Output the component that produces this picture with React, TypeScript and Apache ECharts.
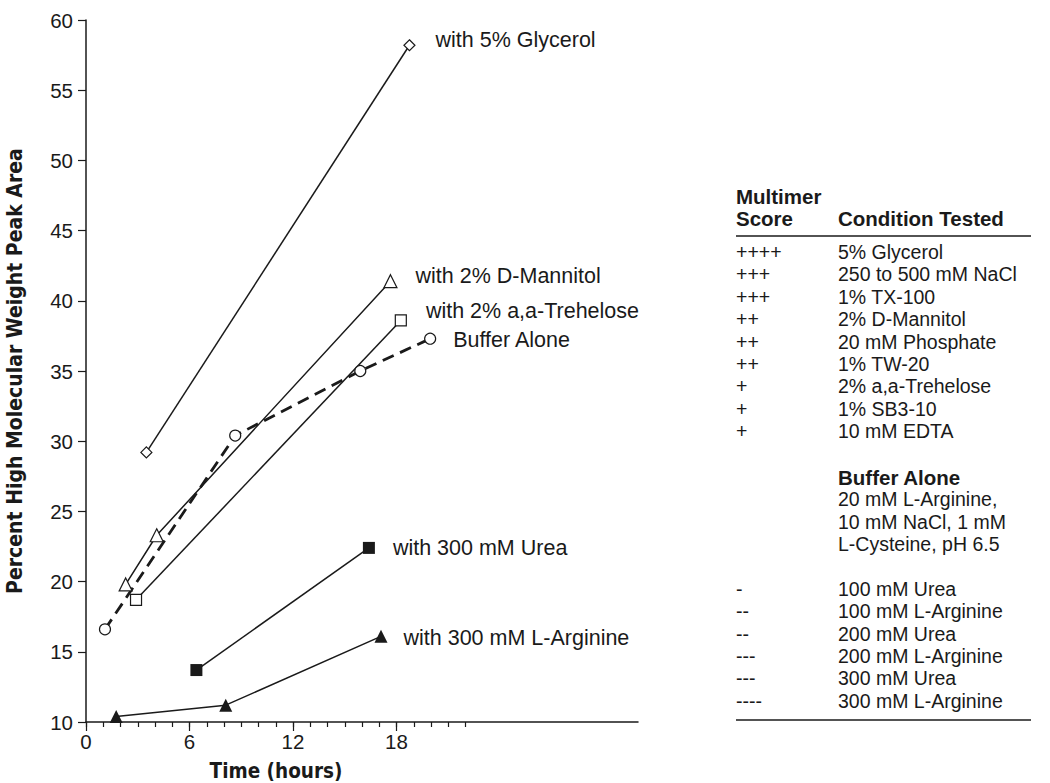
import React, { useEffect, useRef } from "react";
import * as echarts from "echarts";

// ---- data ----
const glycerolX = [3.5, 18.75];
const glycerolY = [29.2, 58.2];
const mannitolX = [2.3, 4.1, 17.65];
const mannitolY = [19.8, 23.3, 41.4];
const trehaloseX = [2.9, 18.25];
const trehaloseY = [18.7, 38.6];
const bufferX = [1.1, 8.65, 15.9, 19.95];
const bufferY = [16.6, 30.4, 35.0, 37.3];
const ureaX = [6.4, 16.4];
const ureaY = [13.7, 22.4];
const arginineX = [1.75, 8.1, 17.1];
const arginineY = [10.4, 11.2, 16.1];

const seriesNames = [
  "with 5% Glycerol",
  "with 2% D-Mannitol",
  "with 2% a,a-Trehelose",
  "Buffer Alone",
  "with 300 mM Urea",
  "with 300 mM L-Arginine",
];

const xMajorTicks = [0, 6, 12, 18];
const xMinorTicks = [0, 1, 2, 3, 4, 5, 6, 7, 8, 9, 10, 11, 12, 13, 14, 15, 16, 17, 18, 19, 20, 21, 22];

const positiveScores = ["++++", "+++", "+++", "++", "++", "++", "+", "+", "+"];
const positiveConditions = [
  "5% Glycerol",
  "250 to 500 mM NaCl",
  "1% TX-100",
  "2% D-Mannitol",
  "20 mM Phosphate",
  "1% TW-20",
  "2% a,a-Trehelose",
  "1% SB3-10",
  "10 mM EDTA",
];
const bufferLines = ["20 mM L-Arginine,", "10 mM NaCl, 1 mM", "L-Cysteine, pH 6.5"];
const negativeScores = ["-", "--", "--", "---", "---", "----"];
const negativeConditions = [
  "100 mM Urea",
  "100 mM L-Arginine",
  "200 mM Urea",
  "200 mM L-Arginine",
  "300 mM Urea",
  "300 mM L-Arginine",
];

const FONT = "'Liberation Sans', Arial, Helvetica, sans-serif";
const NARROW = "'Liberation Sans Narrow', 'DejaVu Sans Condensed', 'Liberation Sans', sans-serif";
const INK = "#1a1a1a";

function pts(xs: number[], ys: number[]) {
  return xs.map((x, i) => [x, ys[i]]);
}

function makeSeries(
  name: string,
  xs: number[],
  ys: number[],
  symbol: string,
  size: number,
  filled: boolean,
  dashed: boolean,
  labelOffset: number[]
) {
  const data: any[] = pts(xs, ys).map((p, i) => {
    if (i === xs.length - 1) {
      return {
        value: p,
        label: {
          show: true,
          formatter: name,
          position: "right",
          distance: 0,
          offset: labelOffset,
          color: INK,
          fontFamily: FONT,
          fontSize: 21.5,
        },
      };
    }
    return { value: p };
  });
  return {
    name,
    type: "line",
    data,
    symbol,
    symbolSize: size,
    showSymbol: true,
    z: 3,
    lineStyle: {
      color: INK,
      width: dashed ? 2.8 : 1.5,
      type: dashed ? [12, 7] : "solid",
    },
    itemStyle: {
      color: filled ? INK : "#ffffff",
      borderColor: INK,
      borderWidth: filled ? 0 : 1.2,
    },
    emphasis: { disabled: true },
  };
}

export default function App() {
  const ref = useRef<HTMLDivElement>(null);

  useEffect(() => {
    if (!ref.current) return;
    const chart = echarts.init(ref.current, null, { renderer: "svg" });

    const graphics: any[] = [];
    const txt = (x: number, y: number, s: string, bold = false) =>
      graphics.push({
        type: "text",
        x,
        y,
        style: {
          text: s,
          fill: INK,
          font: bold ? `bold 20.5px ${FONT}` : `19.5px ${FONT}`,
          textVerticalAlign: "middle",
          textAlign: "left",
        },
      });

    const c1 = 736;
    const c2 = 838;
    txt(c1, 196, "Multimer", true);
    txt(c1, 218, "Score", true);
    txt(c2, 218, "Condition Tested", true);
    graphics.push({
      type: "line",
      shape: { x1: c1, y1: 236, x2: 1031, y2: 236 },
      style: { stroke: INK, lineWidth: 1.5 },
    });
    positiveScores.forEach((s, i) => {
      txt(c1, 252 + i * 22.4, s);
      txt(c2, 252 + i * 22.4, positiveConditions[i]);
    });
    txt(c2, 477, "Buffer Alone", true);
    bufferLines.forEach((s, i) => txt(c2, 499 + i * 22.5, s));
    negativeScores.forEach((s, i) => {
      txt(c1, 589 + i * 22.3, s);
      txt(c2, 589 + i * 22.3, negativeConditions[i]);
    });
    graphics.push({
      type: "line",
      shape: { x1: c1, y1: 720, x2: 1031, y2: 720 },
      style: { stroke: INK, lineWidth: 1.5 },
    });
    graphics.push({
      type: "text",
      x: 276,
      y: 771,
      style: {
        text: "Time (hours)",
        fill: INK,
        font: `bold 20.5px ${NARROW}`,
        textAlign: "center",
        textVerticalAlign: "middle",
      },
    });

    chart.setOption({
      animation: false,
      backgroundColor: "#ffffff",
      grid: {
        left: 86,
        right: 412,
        top: 20,
        bottom: 61,
        containLabel: false,
        outerBoundsMode: "none",
      },
      xAxis: [
        {
          type: "value",
          min: 0,
          max: 32,
          interval: 6,
          position: "bottom",
          splitLine: { show: false },
          axisLine: { show: true, lineStyle: { color: INK, width: 1.5 } },
          axisTick: {
            show: true,
            customValues: xMajorTicks,
            length: 9,
            lineStyle: { color: INK, width: 1.2 },
          },
          axisLabel: {
            customValues: xMajorTicks,
            color: INK,
            fontFamily: FONT,
            fontSize: 20.5,
            margin: 9,
          },
        },
        {
          type: "value",
          min: 0,
          max: 32,
          interval: 1,
          position: "bottom",
          offset: 0,
          splitLine: { show: false },
          axisLine: { show: false },
          axisTick: {
            show: true,
            customValues: xMinorTicks,
            length: 5,
            lineStyle: { color: INK, width: 1.2 },
          },
          axisLabel: { show: false },
        },
      ],
      yAxis: {
        type: "value",
        min: 10,
        max: 60,
        interval: 5,
        name: "Percent High Molecular Weight Peak Area",
        nameLocation: "middle",
        nameRotate: 90,
        nameGap: 61,
        nameTextStyle: {
          color: INK,
          fontFamily: NARROW,
          fontWeight: "bold",
          fontSize: 21,
        },
        splitLine: { show: false },
        axisLine: { show: true, lineStyle: { color: INK, width: 1.5 } },
        axisTick: { show: true, length: 8, lineStyle: { color: INK, width: 1.2 } },
        axisLabel: {
          color: INK,
          fontFamily: FONT,
          fontSize: 20.5,
          margin: 13,
        },
      },
      graphic: graphics,
      series: [
        makeSeries(seriesNames[0], glycerolX, glycerolY, "diamond", 11, false, false, [20, -5]),
        makeSeries(seriesNames[1], mannitolX, mannitolY, "triangle", 13, false, false, [18, -5]),
        makeSeries(seriesNames[2], trehaloseX, trehaloseY, "rect", 11, false, false, [19, -9]),
        makeSeries(seriesNames[3], bufferX, bufferY, "circle", 11, false, true, [17, 1]),
        makeSeries(seriesNames[4], ureaX, ureaY, "rect", 12, true, false, [18, 0]),
        makeSeries(seriesNames[5], arginineX, arginineY, "triangle", 13, true, false, [16, 2]),
      ],
    });
    return () => chart.dispose();
  }, []);

  return (
    <div
      ref={ref}
      style={{ position: "fixed", left: 0, top: 0, width: 1050, height: 783, background: "#fff" }}
    />
  );
}
